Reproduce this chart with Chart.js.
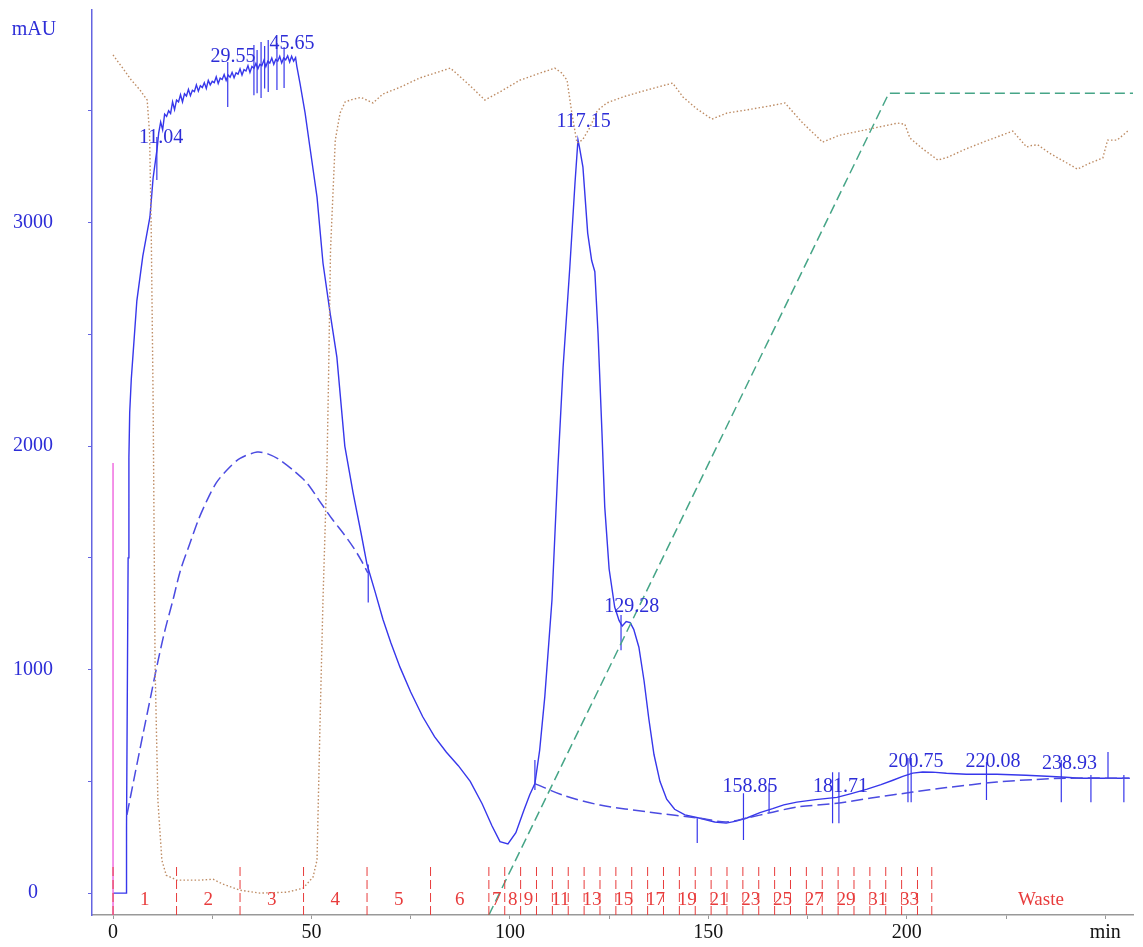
<!DOCTYPE html>
<html>
<head>
<meta charset="utf-8">
<script src="https://cdn.jsdelivr.net/npm/chart.js@4.4.0/dist/chart.umd.min.js"></script>
<style>
  html, body { margin: 0; padding: 0; background: #fff; }
  #chromChart { display: block; }
</style>
</head>
<body>
<canvas id="chromChart" width="1143" height="947"></canvas>
<script>
// UV trace: time (min) and absorbance (mAU)
const uvTime = [0, 3.3, 3.4, 3.6, 3.8, 4.0, 4.2, 4.6, 5.0, 6.0, 7.5, 9.3, 10.1, 11.1,
    11.5, 12, 12.5, 13, 13.5, 14, 14.5, 15, 15.5, 16, 16.5, 17, 17.5, 18, 18.5, 19, 19.5,
    20, 20.5, 21, 21.5, 22, 22.5, 23, 23.5, 24, 24.5, 25, 25.5, 26, 26.5, 27, 27.5, 28, 28.5,
    29, 29.5, 30, 30.5, 31, 31.5, 32, 32.5, 33, 33.5, 34, 34.5, 35, 35.5, 36, 36.5, 37, 37.5,
    38, 38.5, 39, 39.5, 40, 40.5, 41, 41.5, 42, 42.5, 43, 43.5, 44, 44.5, 45, 45.5, 46,
    46.3, 47.1, 48.4, 49.6, 51.4, 52.9, 54.7, 56.4, 58.4, 60.5, 62.5, 64.0, 66.0, 68.0, 70.0,
    72.3, 75, 78, 81, 84, 87, 90, 93, 95.5, 97.5, 99.5, 101.5, 103.5, 105, 106.3, 107.5,
    108.8, 110.6, 112.1, 113.4, 115.1, 116.4, 117.15, 117.5, 118.4, 119.6, 120.6, 121.4,
    122.2, 123.2, 123.9, 125.0, 126.4, 127.5, 128.3, 129.3, 130.3, 131.2, 132.5, 133.8,
    135.0, 136.3, 137.8, 139.5, 141.5, 144.1, 147.9, 151.6, 154.5, 157, 159.7, 163, 166.2,
    169, 172.3, 177, 182.4, 186, 190, 193.5, 196.5, 199, 201.5, 204, 206.5, 210, 215,
    222.7, 230, 235.3, 240, 243.6, 250, 256.2];
const uvMau = [0, 0, 300, 900, 1500, 1950, 2150, 2300, 2400, 2650, 2850, 3025, 3200, 3330,
    3400, 3450, 3415, 3485, 3475, 3500, 3488, 3540, 3505, 3548, 3540, 3572, 3540, 3576, 3566, 3596, 3568,
    3592, 3586, 3616, 3588, 3612, 3604, 3626, 3600, 3636, 3616, 3632, 3626, 3652, 3622, 3646, 3640, 3662, 3636,
    3660, 3650, 3672, 3648, 3670, 3664, 3688, 3660, 3684, 3678, 3702, 3672, 3698, 3690, 3712, 3688, 3708, 3702,
    3726, 3698, 3722, 3714, 3736, 3708, 3730, 3722, 3744, 3714, 3736, 3728, 3746, 3718, 3744, 3722, 3738,
    3700, 3624, 3490, 3338, 3114, 2819, 2595, 2398, 2000, 1790, 1610, 1470, 1350, 1225, 1120,
    1011, 900, 790, 700, 630, 570, 500, 400, 300, 230, 220, 270, 370, 440, 490, 640,
    880, 1311, 1906, 2353, 2801, 3177, 3370, 3340, 3248, 2953, 2830, 2780,
    2506, 2058, 1727, 1450, 1280, 1220, 1195, 1215, 1210, 1180, 1100, 950,
    780, 620, 500, 420, 375, 350, 335, 318, 313, 322, 336, 360, 378,
    395, 407, 418, 428, 445, 465, 485, 505, 522, 537, 542, 541, 536, 532,
    532, 527, 523, 518, 514, 514, 514];

// dashed baselines under the peaks
const base1Time = [3.5, 5.5, 7.6, 9.5, 11, 13, 15.1, 17, 19.4, 21.5, 23.7, 26, 28.7, 32, 36.3, 39, 42.1, 45.5, 48.9, 52, 55.4, 58, 60.5, 62.5, 64.2];
const base1Mau = [350, 530, 716, 880, 1011, 1170, 1311, 1445, 1566, 1670, 1758, 1835, 1893, 1945, 1973, 1965, 1937, 1890, 1834, 1755, 1669, 1610, 1548, 1490, 1432];
const base2Time = [106.3, 113.4, 122.7, 135.3, 147.9, 154.5, 159.7, 166.2, 172.3, 182.4, 191, 201.5, 210, 222.7, 232, 240, 256];
const base2Mau = [490, 438, 394, 362, 335, 318, 336, 362, 385, 402, 425, 452, 472, 497, 508, 514, 514];

// conductivity trace (dotted), plotted on the mAU scale
const condTime = [0, 1, 2.5, 4.5, 6.8, 8.6, 9.2, 9.6, 10.1, 10.6, 11.3, 12.3, 13.4, 16.1, 22, 25.2, 27.7, 32, 37, 43.8, 47.9,
    50.4, 51.4, 52.1, 52.9, 53.9, 54.3, 54.8, 56, 57.2, 58.5, 60.5, 62.5, 65.5, 68, 72.3, 77.3, 85, 89.5, 93.7, 98,
    102.5, 107, 111.3, 113, 114.4, 115.6, 116.9, 118.3, 120.2, 122, 124.4, 128.5, 132.7, 137, 141, 143.6, 147,
    150.9, 154.7, 160, 165, 169.3, 173.8, 178.8, 183.1, 185.6, 191, 197.7, 199.5, 200.8, 204, 207.8, 210, 215,
    220, 226.7, 230.2, 231.5, 233, 236, 240, 243, 246, 249.4, 250.6, 253, 256];
const condMau = [3750, 3725, 3690, 3640, 3593, 3548, 3400, 3000, 2206, 1011, 416, 148, 80, 58, 58, 62, 40, 13, 0, 4, 22,
    72, 148, 716, 1311, 1906, 2300, 2877, 3369, 3490, 3540, 3552, 3560, 3535, 3575, 3605, 3647, 3691, 3620, 3548, 3590,
    3637, 3665, 3691, 3670, 3637, 3490, 3356, 3370, 3427, 3500, 3535, 3562, 3584, 3605, 3624, 3562, 3510,
    3463, 3490, 3505, 3520, 3535, 3445, 3360, 3391, 3400, 3420, 3445, 3440, 3378, 3330, 3280, 3290, 3330,
    3365, 3409, 3338, 3345, 3348, 3310, 3270, 3239, 3265, 3289, 3369, 3369, 3414];

// gradient (%B) drawn on the same scale
const gradTime = [94.7, 195.5, 257];
const gradMau = [-98, 3579, 3579];

// injection mark
const injectTime = 0;
const injectTop = 1924;

// fractions
const fractionEdges = [0, 16, 32, 48, 64, 80, 94.7, 98.7, 102.7, 106.7, 110.7, 114.7, 118.7, 122.7, 126.7,
    130.7, 134.7, 138.7, 142.7, 146.7, 150.7, 154.7, 158.7, 162.7, 166.7, 170.7, 174.7, 178.7, 182.7,
    186.7, 190.7, 194.7, 198.7, 202.7, 206.3];
const fractionNames = ['1', '2', '3', '4', '5', '6', '7', '8', '9', '', '11', '', '13', '', '15', '', '17', '', '19', '',
    '21', '', '23', '', '25', '', '27', '', '29', '', '31', '', '33', ''];
const wasteTime = 233.8;

// peak retention labels
const peakNames = ['11.04', '29.55', '45.65', '117.15', '129.28', '158.85', '181.71', '200.75', '220.08', '238.93'];
const peakLabelTime = [12.1, 30.2, 45.1, 118.6, 130.7, 160.5, 183.3, 202.3, 221.7, 241];
const peakLabelMau = [3378, 3741, 3799, 3450, 1280, 478, 478, 587, 587, 578];

// integration marks (time, low, high)
const markTime = [11.04, 28.9, 35.5, 36.3, 37.3, 38.2, 39.1, 41.3, 43.1, 64.3, 106.3, 128.0, 147.2, 158.85,
    165.3, 181.3, 182.9, 200.3, 201.1, 220.08, 238.93, 246.4, 250.7, 254.7];
const markLow = [3190, 3517, 3570, 3579, 3557, 3600, 3584, 3593, 3602, 1300, 461, 1087, 224, 237,
    362, 313, 313, 407, 407, 416, 407, 407, 515, 407];
const markHigh = [3383, 3718, 3794, 3772, 3808, 3790, 3817, 3803, 3785, 1470, 595, 1244, 335, 447,
    492, 541, 541, 604, 604, 586, 595, 528, 631, 528];

const yMin = -98;
const yMax = 3951;

const serif = "'Liberation Serif', 'Times New Roman', serif";
const blueLine = 'rgb(55, 55, 235)';
const blueText = 'rgb(45, 45, 215)';
const redMark = 'rgb(232, 60, 60)';

function zip(xs, ys) {
    return xs.map((x, i) => ({ x: x, y: ys[i] }));
}

// vertical segments separated by gaps
function verticalMarks(times, lows, highs) {
    const pts = [];
    times.forEach((t, i) => {
        pts.push({ x: t, y: lows[i] }, { x: t, y: highs[i] }, { x: t, y: null });
    });
    return pts;
}

const fractionLines = verticalMarks(fractionEdges,
    fractionEdges.map(() => yMin), fractionEdges.map(() => 125));

const labelPlugin = {
    id: 'chromLabels',
    afterDatasetsDraw(chart) {
        const ctx = chart.ctx;
        const xs = chart.scales.x;
        const ys = chart.scales.y;
        ctx.save();
        ctx.textAlign = 'center';
        ctx.textBaseline = 'middle';

        // fraction numbers
        ctx.font = '19px ' + serif;
        ctx.fillStyle = redMark;
        fractionNames.forEach((name, i) => {
            if (!name) return;
            const mid = (fractionEdges[i] + fractionEdges[i + 1]) / 2;
            ctx.fillText(name, xs.getPixelForValue(mid), ys.getPixelForValue(-31));
        });
        ctx.fillText('Waste', xs.getPixelForValue(wasteTime), ys.getPixelForValue(-31));

        // peak labels
        ctx.font = '20px ' + serif;
        ctx.fillStyle = blueText;
        peakNames.forEach((name, i) => {
            ctx.fillText(name, xs.getPixelForValue(peakLabelTime[i]), ys.getPixelForValue(peakLabelMau[i]));
        });

        // unit label at top of the y axis
        ctx.fillText('mAU', 34, 30);
        ctx.restore();
    }
};

const ctx = document.getElementById('chromChart').getContext('2d');
window.myChart = new Chart(ctx, {
    type: 'scatter',
    data: {
        datasets: [
            {
                label: 'Fractions',
                data: fractionLines,
                borderColor: redMark,
                borderWidth: 1,
                borderDash: [9, 4],
                showLine: true,
                spanGaps: false,
                pointRadius: 0
            },
            {
                label: 'Injection',
                data: [{ x: injectTime, y: yMin }, { x: injectTime, y: injectTop }],
                borderColor: 'rgb(240, 110, 225)',
                borderWidth: 1.5,
                showLine: true,
                pointRadius: 0
            },
            {
                label: 'Conductivity',
                data: zip(condTime, condMau),
                borderColor: 'rgb(190, 140, 100)',
                borderWidth: 1.4,
                borderDash: [1.5, 2.2],
                showLine: true,
                pointRadius: 0
            },
            {
                label: 'Gradient',
                data: zip(gradTime, gradMau),
                borderColor: 'rgb(70, 165, 135)',
                borderWidth: 1.5,
                borderDash: [10, 5],
                showLine: true,
                pointRadius: 0
            },
            {
                label: 'Baseline 1',
                data: zip(base1Time, base1Mau),
                borderColor: 'rgb(75, 75, 225)',
                borderWidth: 1.5,
                borderDash: [12, 5],
                showLine: true,
                tension: 0.3,
                pointRadius: 0
            },
            {
                label: 'Baseline 2',
                data: zip(base2Time, base2Mau),
                borderColor: 'rgb(75, 75, 225)',
                borderWidth: 1.5,
                borderDash: [12, 5],
                showLine: true,
                tension: 0.3,
                pointRadius: 0
            },
            {
                label: 'UV',
                data: zip(uvTime, uvMau),
                borderColor: blueLine,
                borderWidth: 1.4,
                showLine: true,
                pointRadius: 0
            },
            {
                label: 'Marks',
                data: verticalMarks(markTime, markLow, markHigh),
                borderColor: blueLine,
                borderWidth: 1.2,
                showLine: true,
                spanGaps: false,
                pointRadius: 0
            }
        ]
    },
    options: {
        responsive: false,
        animation: false,
        devicePixelRatio: 1,
        layout: { padding: { top: 10, right: 10, left: 0, bottom: 0 } },
        plugins: {
            legend: { display: false },
            tooltip: { enabled: false }
        },
        scales: {
            x: {
                type: 'linear',
                min: -5.3,
                max: 257,
                afterFit: (scale) => {
                    scale.height = 32;
                    scale.paddingLeft = 0;
                    scale.paddingRight = 0;
                },
                afterBuildTicks: (axis) => {
                    axis.ticks = [0, 25, 50, 75, 100, 125, 150, 175, 200, 225, 250].map(v => ({ value: v }));
                },
                ticks: {
                    autoSkip: false,
                    maxRotation: 0,
                    padding: 2,
                    color: '#111',
                    font: { family: serif, size: 20 },
                    callback: (v) => (v === 250 ? 'min' : (v % 50 === 0 ? String(v) : ''))
                },
                grid: { drawOnChartArea: false, drawTicks: true, tickLength: 4, color: '#999' },
                border: { display: true, color: '#999', width: 1.5 }
            },
            y: {
                type: 'linear',
                min: yMin,
                max: yMax,
                afterFit: (scale) => {
                    scale.width = 92;
                    scale.paddingTop = 0;
                    scale.paddingBottom = 0;
                },
                afterBuildTicks: (axis) => {
                    axis.ticks = [0, 500, 1000, 1500, 2000, 2500, 3000, 3500].map(v => ({ value: v }));
                },
                ticks: {
                    crossAlign: 'center',
                    padding: 35,
                    color: blueText,
                    font: { family: serif, size: 20 },
                    callback: (v) => (v % 1000 === 0 ? String(v) : '')
                },
                grid: { drawOnChartArea: false, drawTicks: true, tickLength: 4, color: 'rgb(100, 100, 225)' },
                border: { display: true, color: 'rgb(100, 100, 225)', width: 1.5 }
            }
        }
    },
    plugins: [labelPlugin]
});
</script>
</body>
</html>
